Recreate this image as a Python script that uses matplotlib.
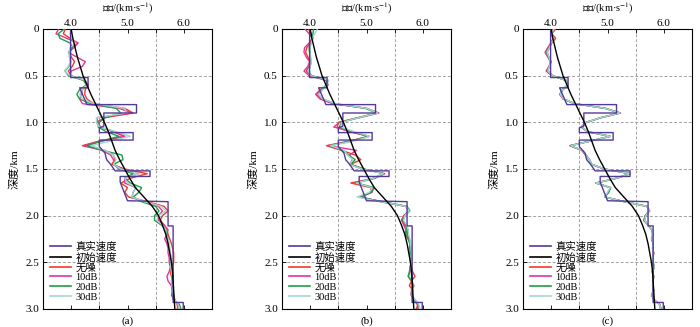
import numpy as np
import matplotlib
matplotlib.use("Agg")
import matplotlib.pyplot as plt
from matplotlib.lines import Line2D

plt.rcParams['font.family'] = ['Liberation Serif', 'Noto Sans CJK SC', 'DejaVu Sans']
plt.rcParams['mathtext.fontset'] = 'stix'

# ---------------- data ----------------
# true (layered) model: depth (km) / velocity (km/s) vertices
true_depth = [0.00, 0.52, 0.52, 0.63, 0.63, 0.81, 0.81, 0.90, 0.90, 1.04, 1.06, 1.11, 1.11,
              1.19, 1.19, 1.26, 1.33, 1.40, 1.45, 1.52, 1.52, 1.58, 1.58, 1.64, 1.84, 1.85,
              2.11, 2.11, 2.93, 2.93, 3.00]
true_vel = [3.99, 3.99, 4.30, 4.30, 4.15, 4.28, 5.16, 5.16, 4.58, 4.58, 4.50, 4.50, 5.10,
            5.10, 4.50, 4.50, 4.60, 4.63, 4.70, 4.78, 5.40, 5.40, 4.87, 4.87, 5.00, 5.72,
            5.72, 5.81, 5.81, 5.99, 5.99]

# initial (smooth) model
init_depth = [0.0, 0.1, 0.2, 0.3, 0.4, 0.5, 0.6, 0.7, 0.8, 0.9, 1.0, 1.1, 1.2, 1.3, 1.4, 1.5,
              1.6, 1.7, 1.8, 1.9, 2.0, 2.1, 2.2, 2.3, 2.4, 2.5, 2.6, 2.7, 2.8, 2.9, 3.0]
init_vel = [4.00, 4.03, 4.07, 4.11, 4.16, 4.21, 4.28, 4.35, 4.43, 4.51, 4.59, 4.66, 4.72, 4.78,
            4.86, 4.95, 5.04, 5.14, 5.29, 5.44, 5.55, 5.62, 5.68, 5.72, 5.75, 5.78, 5.80, 5.81,
            5.82, 5.83, 5.84]

# inverted models sampled every 0.05 km
inv_depth = np.round(np.arange(0, 3.0001, 0.05), 2)

# panel (a)
a_clean = [3.90, 3.86, 3.98, 4.12, 4.00, 3.96, 4.00, 4.06, 4.02, 3.95, 4.00, 4.22, 4.30, 4.25,
           4.24, 4.28, 4.40, 4.95, 5.10, 4.60, 4.45, 4.50, 4.75, 4.95, 4.50, 4.20, 4.60, 4.75,
           4.78, 4.72, 4.95, 5.35, 5.05, 4.88, 5.00, 4.95, 5.02, 5.35, 5.65, 5.72, 5.62, 5.58,
           5.65, 5.70, 5.72, 5.75, 5.78, 5.80, 5.82, 5.82, 5.82, 5.78, 5.76, 5.78, 5.80, 5.78,
           5.79, 5.82, 5.84, 5.88, 5.90]
a_10db = [3.78, 3.73, 3.92, 4.12, 4.05, 3.95, 4.10, 4.25, 4.20, 4.00, 3.98, 4.25, 4.30, 4.20,
          4.18, 4.15, 4.20, 4.85, 5.08, 4.45, 4.48, 4.52, 4.75, 4.95, 4.55, 4.22, 4.55, 4.70,
          4.75, 4.76, 4.90, 5.20, 4.95, 4.95, 5.15, 5.10, 5.08, 5.30, 5.55, 5.62, 5.55, 5.55,
          5.65, 5.72, 5.70, 5.66, 5.70, 5.72, 5.72, 5.74, 5.74, 5.76, 5.74, 5.70, 5.72, 5.78,
          5.80, 5.78, 5.82, 5.90, 5.88]
a_20db = [3.88, 3.77, 3.80, 3.98, 4.02, 3.97, 3.97, 3.99, 3.96, 3.89, 3.95, 4.22, 4.27, 4.15,
          4.10, 4.15, 4.35, 4.80, 4.88, 4.60, 4.50, 4.48, 4.62, 4.85, 4.55, 4.28, 4.55, 4.90,
          4.92, 4.75, 4.85, 5.10, 4.95, 5.05, 5.25, 5.20, 5.10, 5.25, 5.50, 5.56, 5.48, 5.48,
          5.60, 5.68, 5.70, 5.72, 5.73, 5.74, 5.76, 5.77, 5.78, 5.78, 5.79, 5.80, 5.78, 5.79,
          5.81, 5.80, 5.82, 5.92, 5.95]
a_30db = [4.00, 3.98, 4.00, 4.08, 3.98, 3.96, 3.97, 3.99, 3.95, 3.88, 3.98, 4.25, 4.28, 4.20,
          4.15, 4.20, 4.40, 4.95, 4.98, 4.45, 4.45, 4.50, 4.80, 5.05, 4.70, 4.36, 4.60, 4.75,
          4.80, 4.75, 4.88, 5.20, 4.95, 5.00, 5.15, 5.10, 5.08, 5.30, 5.60, 5.68, 5.55, 5.52,
          5.62, 5.68, 5.68, 5.72, 5.74, 5.75, 5.76, 5.78, 5.78, 5.77, 5.78, 5.80, 5.79, 5.79,
          5.80, 5.81, 5.83, 5.90, 5.92]

# panel (b)
b_clean = [3.97, 4.02, 4.05, 4.00, 3.94, 3.92, 3.96, 4.00, 3.98, 3.93, 4.02, 4.30, 4.30, 4.18,
           4.10, 4.18, 4.42, 5.00, 5.20, 4.85, 4.50, 4.48, 4.70, 5.04, 4.70, 4.29, 4.55, 4.80,
           4.90, 4.72, 4.95, 5.32, 5.12, 4.72, 5.08, 5.08, 4.90, 5.25, 5.70, 5.76, 5.66, 5.62,
           5.68, 5.74, 5.72, 5.76, 5.78, 5.76, 5.80, 5.78, 5.80, 5.78, 5.82, 5.86, 5.80, 5.76,
           5.82, 5.80, 5.84, 5.90, 5.92]
b_10db = [3.91, 3.98, 4.04, 3.98, 3.90, 3.89, 3.93, 3.99, 3.96, 3.89, 3.98, 4.28, 4.32, 4.20,
          4.10, 4.18, 4.40, 5.00, 5.22, 4.88, 4.52, 4.42, 4.72, 5.05, 4.72, 4.32, 4.82, 4.70,
          4.75, 4.70, 4.92, 5.32, 5.15, 4.80, 5.12, 5.10, 4.88, 5.25, 5.70, 5.75, 5.66, 5.63,
          5.66, 5.70, 5.68, 5.74, 5.78, 5.79, 5.76, 5.80, 5.80, 5.77, 5.78, 5.74, 5.80, 5.84,
          5.80, 5.79, 5.86, 5.92, 5.88]
b_20db = [4.06, 4.05, 4.03, 4.02, 3.98, 3.99, 4.00, 4.02, 4.00, 3.95, 4.03, 4.32, 4.28, 4.22,
          4.14, 4.22, 4.45, 4.98, 5.18, 4.85, 4.55, 4.52, 4.75, 5.03, 4.75, 4.35, 4.58, 4.68,
          4.80, 4.72, 4.95, 5.30, 5.12, 4.82, 5.14, 5.08, 4.88, 5.28, 5.72, 5.77, 5.68, 5.64,
          5.70, 5.72, 5.70, 5.74, 5.77, 5.78, 5.79, 5.77, 5.79, 5.78, 5.76, 5.74, 5.80, 5.84,
          5.80, 5.80, 5.85, 5.92, 5.90]
b_30db = [4.13, 4.08, 4.04, 4.02, 4.00, 4.00, 4.01, 4.02, 4.00, 3.96, 4.02, 4.33, 4.30, 4.22,
          4.15, 4.22, 4.45, 5.00, 5.20, 4.86, 4.56, 4.54, 4.78, 5.06, 4.78, 4.36, 4.60, 4.66,
          4.76, 4.70, 4.92, 5.30, 5.12, 4.82, 5.10, 5.05, 4.83, 5.25, 5.70, 5.76, 5.68, 5.66,
          5.71, 5.74, 5.75, 5.77, 5.78, 5.79, 5.80, 5.79, 5.80, 5.79, 5.80, 5.79, 5.81, 5.82,
          5.81, 5.80, 5.86, 5.93, 5.95]

# panel (c)
c_clean = [4.08, 4.01, 4.08, 4.01, 3.97, 3.93, 3.96, 4.00, 3.97, 3.94, 4.03, 4.27, 4.29, 4.20,
           4.16, 4.22, 4.42, 4.96, 5.22, 4.88, 4.62, 4.54, 4.65, 5.05, 4.70, 4.34, 4.55, 4.62,
           4.68, 4.72, 4.95, 5.40, 5.15, 4.80, 5.05, 5.02, 4.95, 5.30, 5.70, 5.74, 5.68, 5.65,
           5.72, 5.79, 5.80, 5.79, 5.81, 5.80, 5.82, 5.80, 5.81, 5.83, 5.80, 5.82, 5.81, 5.80,
           5.82, 5.78, 5.82, 5.92, 5.96]
c_10db = [4.02, 3.99, 4.04, 3.99, 3.94, 3.89, 3.94, 3.99, 3.96, 3.91, 4.01, 4.26, 4.30, 4.21,
          4.15, 4.21, 4.41, 4.95, 5.23, 4.89, 4.62, 4.53, 4.64, 5.04, 4.70, 4.33, 4.54, 4.61,
          4.68, 4.71, 4.94, 5.40, 5.16, 4.79, 5.05, 5.01, 4.95, 5.30, 5.70, 5.75, 5.67, 5.64,
          5.72, 5.78, 5.81, 5.78, 5.81, 5.80, 5.82, 5.81, 5.80, 5.82, 5.79, 5.82, 5.80, 5.81,
          5.81, 5.79, 5.83, 5.93, 5.94]
c_20db = [4.05, 4.00, 4.05, 4.00, 3.96, 3.92, 3.95, 3.99, 3.97, 3.93, 4.02, 4.26, 4.29, 4.20,
          4.16, 4.22, 4.42, 4.96, 5.22, 4.88, 4.62, 4.54, 4.65, 5.05, 4.70, 4.34, 4.55, 4.62,
          4.68, 4.72, 4.95, 5.40, 5.15, 4.80, 5.06, 5.02, 4.95, 5.30, 5.70, 5.74, 5.67, 5.66,
          5.72, 5.79, 5.80, 5.79, 5.81, 5.80, 5.82, 5.80, 5.81, 5.83, 5.80, 5.82, 5.81, 5.80,
          5.82, 5.79, 5.82, 5.92, 5.95]
c_30db = [4.05, 4.00, 4.05, 4.00, 3.97, 3.93, 3.96, 3.99, 3.97, 3.94, 4.02, 4.26, 4.29, 4.20,
          4.16, 4.22, 4.42, 4.95, 5.22, 4.88, 4.62, 4.54, 4.65, 5.05, 4.70, 4.35, 4.55, 4.62,
          4.68, 4.72, 4.95, 5.40, 5.15, 4.80, 5.05, 5.00, 4.95, 5.30, 5.70, 5.74, 5.68, 5.66,
          5.72, 5.79, 5.80, 5.79, 5.81, 5.80, 5.82, 5.80, 5.81, 5.83, 5.80, 5.82, 5.81, 5.80,
          5.82, 5.79, 5.82, 5.92, 5.95]

panels = [
    ('(a)', a_clean, a_10db, a_20db, a_30db),
    ('(b)', b_clean, b_10db, b_20db, b_30db),
    ('(c)', c_clean, c_10db, c_20db, c_30db),
]

labels = ['真实速度', '初始速度', '无噪', '10dB', '20dB', '30dB']
colors = ['#55399a', '#000000', '#f2392b', '#e6329a', '#1f9e44', '#9fd8d4']

x_major = [4.0, 5.0, 6.0]
x_major_labels = ['4.0', '5.0', '6.0']
x_minor = [4.5, 5.5]
y_ticks = [0, 0.5, 1.0, 1.5, 2.0, 2.5, 3.0]
y_labels = ['0', '0.5', '1.0', '1.5', '2.0', '2.5', '3.0']

# ---------------- figure ----------------
fig = plt.figure(figsize=(7.0, 3.27), dpi=100)
lefts = [43 / 700, 282 / 700, 523 / 700]
bottom = 18 / 327
width = 169 / 700
height = 280 / 327

for i, (tag, v_clean, v_10, v_20, v_30) in enumerate(panels):
    ax = fig.add_axes([lefts[i], bottom, width, height])
    ax.set_xlim(3.5, 6.5)
    ax.set_ylim(3.0, 0.0)

    lw = 1.0
    ax.plot(v_clean, inv_depth, color=colors[2], lw=lw, zorder=3)
    ax.plot(v_10, inv_depth, color=colors[3], lw=lw, zorder=3)
    ax.plot(v_20, inv_depth, color=colors[4], lw=lw, zorder=3)
    ax.plot(v_30, inv_depth, color=colors[5], lw=lw, zorder=3)
    ax.plot(true_vel, true_depth, color=colors[0], lw=lw, zorder=4)
    ax.plot(init_vel, init_depth, color=colors[1], lw=lw, zorder=5)

    ax.xaxis.set_ticks_position('both')
    ax.xaxis.set_label_position('top')
    ax.set_xticks(x_major)
    ax.set_xticklabels(x_major_labels)
    ax.set_xticks(x_minor, minor=True)
    ax.tick_params(axis='x', which='both', direction='in', top=True, bottom=True,
                   labeltop=True, labelbottom=False, labelsize=8, pad=0.5,
                   length=3, width=0.6)
    ax.set_yticks(y_ticks)
    ax.set_yticklabels(y_labels)
    ax.tick_params(axis='y', direction='in', left=True, right=False, labelsize=8,
                   pad=3, length=3, width=0.6)

    ax.grid(True, axis='x', which='minor', color='#a0a0a0', lw=0.7, ls=(0, (3, 2)))
    ax.grid(True, axis='y', which='major', color='#a0a0a0', lw=0.7, ls=(0, (3, 2)))
    ax.grid(False, axis='x', which='major')
    for s in ax.spines.values():
        s.set_linewidth(0.8)

    ax.set_xlabel('速度/(km·s$^{-1}$)', fontsize=7.5)
    ax.xaxis.label.set_verticalalignment('center')
    ax.xaxis.set_label_coords(0.5, 1 + 21 / 280)
    ax.set_ylabel('深度/km', fontsize=8, labelpad=4)
    ax.text(0.5, -0.025, tag, transform=ax.transAxes, ha='center', va='top', fontsize=8)

    handles = [Line2D([], [], color=c, lw=1.2) for c in colors]
    ax.legend(handles, labels, loc='lower left', frameon=False, fontsize=7.5,
              labelspacing=0.05, handlelength=2.0, handletextpad=0.4,
              borderaxespad=0.4, borderpad=0.3)

fig.savefig('out.png', dpi=100)
